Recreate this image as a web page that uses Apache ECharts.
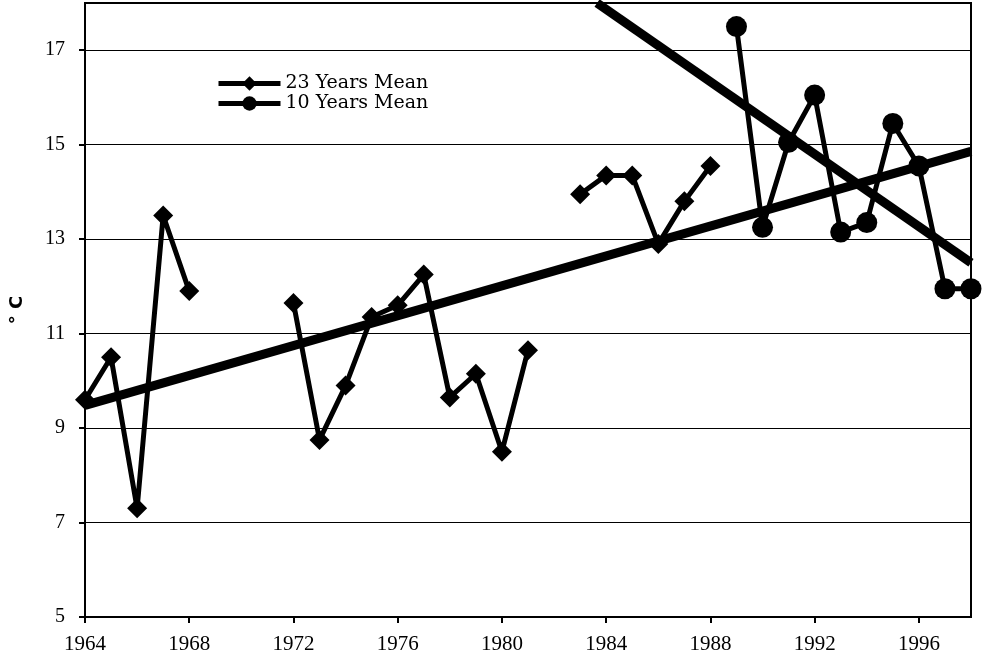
<!DOCTYPE html>
<html>
<head>
<meta charset="utf-8">
<script src="https://cdn.jsdelivr.net/npm/echarts@6/dist/echarts.min.js"></script>
<style>
html,body{margin:0;padding:0;background:#fff;}
#chart{width:982px;height:664px;}
</style>
</head>
<body>
<div id="chart"></div>
<script>
// Data
var years23 = [1964,1965,1966,1967,1968,1969,1970,1971,1972,1973,1974,1975,1976,1977,1978,1979,1980,1981,1982,1983,1984,1985,1986,1987,1988];
var vals23 = [9.6,10.5,7.3,13.5,11.9,null,null,null,11.65,8.75,9.9,11.35,11.6,12.25,9.65,10.15,8.5,10.65,null,13.95,14.35,14.35,12.9,13.8,14.55];
var years10 = [1989,1990,1991,1992,1993,1994,1995,1996,1997,1998];
var vals10 = [17.5,13.25,15.05,16.05,13.15,13.35,15.45,14.55,11.95,11.95];
var trendUpYears = [1964,1998];
var trendUpVals = [9.48,14.86];
var trendDownYears = [1983.65,1998];
var trendDownVals = [18.0,12.5];
var xTicks = {min:1964,max:1998,step:4};
var yTicks = {min:5,max:18,step:2};
var seriesNames = ['23 Years Mean','10 Years Mean'];
var yName = '° C';

function pairs(xs, ys){ return xs.map(function(x,i){ return [x, ys[i]]; }); }

var chart = echarts.init(document.getElementById('chart'));
var serif = 'Liberation Serif';
chart.setOption({
  backgroundColor:'#fff',
  animation:false,
  grid:{left:85,right:11,top:3,bottom:47,show:true,borderColor:'#000',borderWidth:2,backgroundColor:'transparent',
        containLabel:false,outerBoundsMode:'none'},
  legend:{
    data:seriesNames,
    orient:'vertical',
    left:216, top:74, padding:0,
    itemWidth:62, itemHeight:18, itemGap:1,
    lineStyle:{width:5,color:'#000'},
    itemStyle:{color:'#000'},
    textStyle:{fontFamily:'DejaVu Serif',fontSize:19,color:'#000'}
  },
  xAxis:{
    type:'value', min:xTicks.min, max:xTicks.max, interval:xTicks.step,
    axisLine:{show:true,lineStyle:{color:'#000',width:2}},
    axisTick:{show:true,inside:false,length:6,lineStyle:{color:'#000',width:2}},
    axisLabel:{showMaxLabel:false,margin:17,color:'#000',fontFamily:serif,fontSize:21,formatter:function(v){return String(v);}},
    splitLine:{show:false}
  },
  yAxis:{
    type:'value', min:yTicks.min, max:yTicks.max, interval:yTicks.step,
    name:yName, nameLocation:'middle', nameRotate:90, nameGap:59, nameMoveOverlap:false,
    nameTextStyle:{fontFamily:'DejaVu Sans',fontWeight:'bold',fontSize:18,color:'#000'},
    axisLine:{show:true,lineStyle:{color:'#000',width:2}},
    axisTick:{show:true,inside:false,length:6,lineStyle:{color:'#000',width:2}},
    axisLabel:{showMaxLabel:false,margin:20,color:'#000',fontFamily:serif,fontSize:20},
    splitLine:{show:true,lineStyle:{color:'#000',width:1}}
  },
  series:[
    {name:'trendUp',type:'line',data:pairs(trendUpYears,trendUpVals),symbol:'none',silent:true,
     lineStyle:{color:'#000',width:9},z:1},
    {name:'trendDown',type:'line',data:pairs(trendDownYears,trendDownVals),symbol:'none',silent:true,clip:true,
     lineStyle:{color:'#000',width:9},z:1},
    {name:seriesNames[0],type:'line',data:pairs(years23,vals23),connectNulls:false,
     symbol:'diamond',symbolSize:20,itemStyle:{color:'#000'},lineStyle:{color:'#000',width:5},z:3},
    {name:seriesNames[1],type:'line',data:pairs(years10,vals10),
     symbol:'circle',symbolSize:21,itemStyle:{color:'#000'},lineStyle:{color:'#000',width:5},z:3}
  ]
});
</script>
</body>
</html>
